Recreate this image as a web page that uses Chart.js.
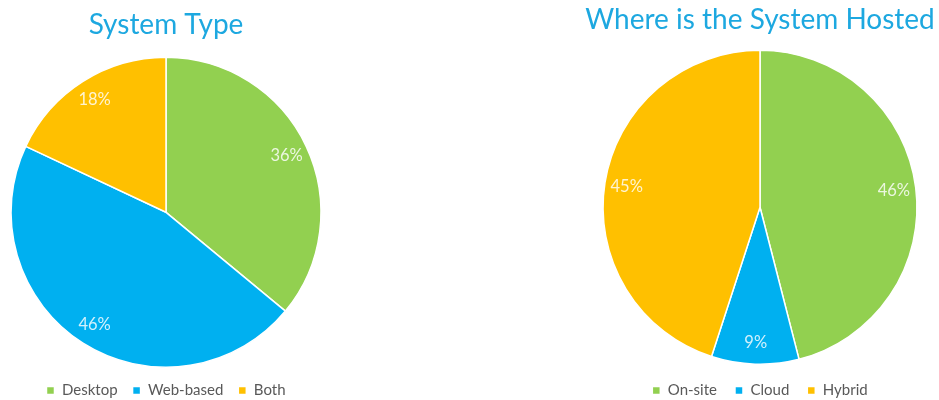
<!DOCTYPE html>
<html>
<head>
<meta charset="utf-8">
<script src="https://cdn.jsdelivr.net/npm/chart.js@4/dist/chart.umd.min.js"></script>
<style>
    body { margin: 0; background: #fff; overflow: hidden; }
    .wrap { position: relative; width: 939px; height: 400px; overflow: hidden; }
    .pie-left { position: absolute; left: 0; top: 0; width: 332px; height: 408px; }
    .pie-right { position: absolute; left: 580px; top: 0; width: 360px; height: 408px; }
</style>
</head>
<body>
<div class="wrap">
    <div class="pie-left"><canvas id="typeChart"></canvas></div>
    <div class="pie-right"><canvas id="hostChart"></canvas></div>
</div>
<script>
const typeLabels = ['Desktop', 'Web-based', 'Both'];
const typeValues = [36, 46, 18];

const hostLabels = ['On-site', 'Cloud', 'Hybrid'];
const hostValues = [46, 9, 45];

const sliceColors = ['#92D050', '#00B0F0', '#FFC000'];

// draws the percent text inside each slice
const pctLabels = {
    id: 'pctLabels',
    afterDatasetsDraw(chart, args, opts) {
        const ctx = chart.ctx;
        const meta = chart.getDatasetMeta(0);
        const values = chart.data.datasets[0].data;
        ctx.save();
        ctx.font = '16.5px Lato, "Open Sans", sans-serif';
        ctx.fillStyle = 'rgba(255,255,255,0.82)';
        ctx.textAlign = 'center';
        ctx.textBaseline = 'middle';
        meta.data.forEach((arc, i) => {
            const p = arc.getProps(['x', 'y', 'startAngle', 'endAngle', 'outerRadius'], true);
            const mid = (p.startAngle + p.endAngle) / 2;
            const r = p.outerRadius * (opts.radius || 0.84);
            ctx.fillText(values[i] + '%', p.x + Math.cos(mid) * r, p.y + Math.sin(mid) * r);
        });
        ctx.restore();
    }
};

function makePie(id, title, labels, values, titlePad, legendPad) {
    const config = {
        type: 'pie',
        data: {
            labels: labels,
            datasets: [{
                data: values,
                backgroundColor: sliceColors,
                borderColor: '#ffffff',
                borderWidth: 1.5
            }]
        },
        options: {
            responsive: true,
            maintainAspectRatio: false,
            animation: false,
            plugins: {
                title: {
                    display: true,
                    text: title,
                    color: '#1DA8E0',
                    font: { family: 'Lato, "Open Sans", sans-serif', size: 28, weight: 'normal' },
                    padding: titlePad
                },
                legend: {
                    position: 'bottom',
                    labels: {
                        boxWidth: 8,
                        boxHeight: 8,
                        color: '#595959',
                        padding: legendPad,
                        font: { family: 'Lato, "Open Sans", sans-serif', size: 15 }
                    }
                },
                tooltip: { enabled: false },
                pctLabels: { radius: 0.86 }
            }
        },
        plugins: [pctLabels]
    };
    return new Chart(document.getElementById(id), config);
}

makePie('typeChart', 'System Type', typeLabels, typeValues, { top: 8, bottom: 15 }, 15);
makePie('hostChart', 'Where is the System Hosted', hostLabels, hostValues, { top: 3, bottom: 13 }, 18);
</script>
</body>
</html>
